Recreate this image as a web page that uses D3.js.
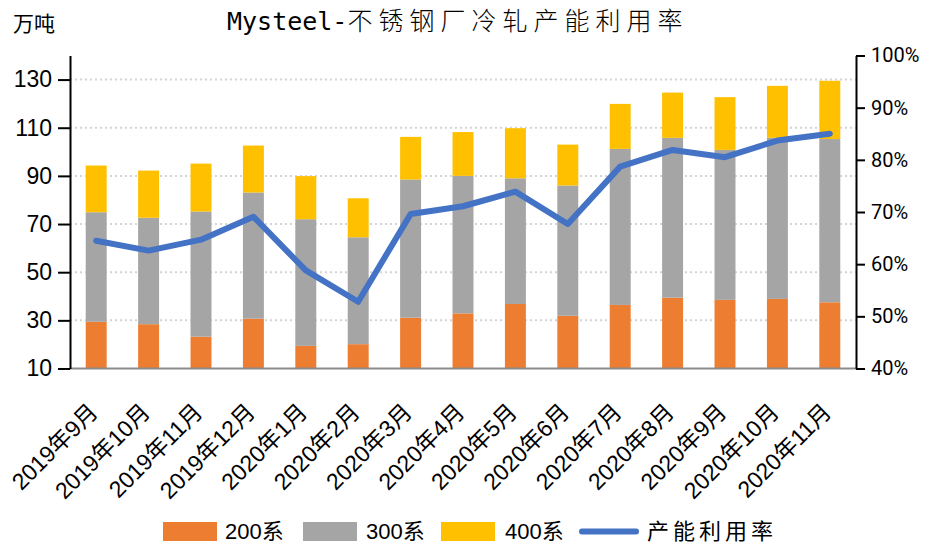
<!DOCTYPE html>
<html><head><meta charset="utf-8">
<script src="https://cdn.jsdelivr.net/npm/d3@7"></script>
<style>body{margin:0;background:#fff;} svg{display:block;}</style>
</head><body>
<script>
const categories = ["2019年9月","2019年10月","2019年11月","2019年12月","2020年1月","2020年2月","2020年3月","2020年4月","2020年5月","2020年6月","2020年7月","2020年8月","2020年9月","2020年10月","2020年11月"];
const s200 = [29.4, 28.4, 23.2, 30.7, 19.4, 20.1, 31.1, 32.9, 36.8, 31.9, 36.4, 39.4, 38.5, 38.9, 37.5];
const s300 = [45.5, 44.2, 52.0, 52.4, 52.6, 44.4, 57.4, 57.1, 52.2, 54.1, 64.8, 66.4, 62.3, 66.9, 67.8];
const s400 = [19.4, 19.6, 19.9, 19.5, 17.9, 16.2, 17.7, 18.2, 20.8, 17.0, 18.7, 18.8, 21.9, 21.6, 24.2];
const utilization = [64.5, 62.6, 64.7, 69.1, 58.8, 52.8, 69.6, 71.1, 73.9, 67.7, 78.7, 81.9, 80.5, 83.7, 85.0];
const leftTicks = [10, 30, 50, 70, 90, 110, 130];
const rightTicks = [40, 50, 60, 70, 80, 90, 100];
const seriesNames = ["200系", "300系", "400系"];
const lineName = "产能利用率";
const colors = ["#ED7D31", "#A5A5A5", "#FFC000"];
const lineColor = "#4472C4";

const W = 930, H = 546;
const L = 70, R = 856, T = 55.5, B = 368.5;
const svg = d3.select("body").append("svg").attr("width", W).attr("height", H);

const x = d3.scaleBand().domain(categories).range([L, R]).paddingInner(0.6).paddingOuter(0.3);
const yL = d3.scaleLinear().domain([10, 140]).range([B, T]);
const yR = d3.scaleLinear().domain([40, 100]).range([B, T]);

// gridlines
svg.append("g").selectAll("line").data(leftTicks.filter(d => d > 10)).join("line")
  .attr("x1", L).attr("x2", R).attr("y1", d => yL(d)).attr("y2", d => yL(d))
  .attr("stroke", "#d4d4d4").attr("stroke-width", 2).attr("stroke-dasharray", "2,3");

// stacked bars
const rows = categories.map((c, i) => ({cat: c, "200系": s200[i], "300系": s300[i], "400系": s400[i]}));
const stacked = d3.stack().keys(seriesNames)(rows);
svg.append("defs").append("clipPath").attr("id", "plotclip")
  .append("rect").attr("x", L).attr("y", T - 10).attr("width", R - L).attr("height", B - T + 10);
const barsG = svg.append("g").attr("clip-path", "url(#plotclip)");
stacked.forEach((layer, k) => {
  barsG.append("g").selectAll("rect").data(layer).join("rect")
    .attr("x", d => x(d.data.cat))
    .attr("width", x.bandwidth())
    .attr("y", d => yL(d[1]))
    .attr("height", d => yL(Math.max(d[0], 10)) - yL(d[1]))
    .attr("fill", colors[k]);
});

// line
const line = d3.line().x((d, i) => x(categories[i]) + x.bandwidth() / 2).y(d => yR(d));
svg.append("path").datum(utilization).attr("d", line)
  .attr("fill", "none").attr("stroke", lineColor).attr("stroke-width", 6)
  .attr("stroke-linejoin", "round").attr("stroke-linecap", "round");

// bottom axis line
svg.append("line").attr("x1", L).attr("x2", R).attr("y1", B).attr("y2", B)
  .attr("stroke", "#8c8c8c").attr("stroke-width", 2);

// left axis
const gL = svg.append("g").attr("transform", `translate(${L},0)`)
  .call(d3.axisLeft(yL).tickValues(leftTicks).tickSize(12).tickSizeOuter(0).tickPadding(6));
gL.select(".domain").attr("stroke", "#000").attr("stroke-width", 2);
gL.selectAll(".tick line").attr("stroke", "#000").attr("stroke-width", 2);
gL.selectAll(".tick text").attr("font-family", "Liberation Sans, Arial, sans-serif").attr("font-size", 23).attr("fill", "#000");

// right axis
const gR = svg.append("g").attr("transform", `translate(${R},0)`)
  .call(d3.axisRight(yR).tickValues(rightTicks).tickSize(9).tickSizeOuter(0).tickPadding(6).tickFormat(d => d + "%"));
gR.select(".domain").attr("stroke", "#000").attr("stroke-width", 2);
gR.selectAll(".tick line").attr("stroke", "#000").attr("stroke-width", 2);
gR.selectAll(".tick text").attr("font-family", "Roboto, sans-serif").attr("font-size", 20).attr("fill", "#000");

// x labels
svg.append("g").selectAll("text").data(categories).join("text")
  .attr("transform", d => `translate(${x(d) + x.bandwidth() / 2 + 3},${B + 45}) rotate(-45)`)
  .attr("text-anchor", "end")
  .attr("font-family", "Liberation Sans, 'Noto Sans CJK SC', sans-serif")
  .attr("font-size", 23).attr("fill", "#000")
  .text(d => d);

// title
const title = svg.append("text").attr("x", 227).attr("y", 30)
  .attr("fill", "#000");
title.append("tspan").attr("font-family", "'DejaVu Sans Mono', monospace").attr("font-size", 25).text("Mysteel-");
title.append("tspan").attr("font-family", "'Noto Sans CJK SC', sans-serif").attr("font-size", 25)
  .attr("letter-spacing", 6).attr("font-weight", 300).text("不锈钢厂冷轧产能利用率");

// unit label
svg.append("text").attr("x", 13).attr("y", 31)
  .attr("font-family", "'Noto Sans CJK SC', sans-serif").attr("font-size", 21).attr("fill", "#000").text("万吨");

// legend
const lg = svg.append("g").attr("font-family", "Liberation Sans, 'Noto Sans CJK SC', sans-serif").attr("font-size", 22);
const legendItems = [
  {name: seriesNames[0], color: colors[0], x: 163, tx: 225},
  {name: seriesNames[1], color: colors[1], x: 303, tx: 366},
  {name: seriesNames[2], color: colors[2], x: 441, tx: 505},
];
legendItems.forEach(it => {
  lg.append("rect").attr("x", it.x).attr("y", 522).attr("width", 54).attr("height", 19).attr("fill", it.color);
  lg.append("text").attr("x", it.tx).attr("y", 539).attr("fill", "#000").text(it.name);
});
lg.append("line").attr("x1", 582).attr("x2", 636).attr("y1", 531.5).attr("y2", 531.5)
  .attr("stroke", lineColor).attr("stroke-width", 6).attr("stroke-linecap", "round");
lg.append("text").attr("x", 647).attr("y", 539).attr("fill", "#000").attr("letter-spacing", 4).text(lineName);
</script>
</body></html>
